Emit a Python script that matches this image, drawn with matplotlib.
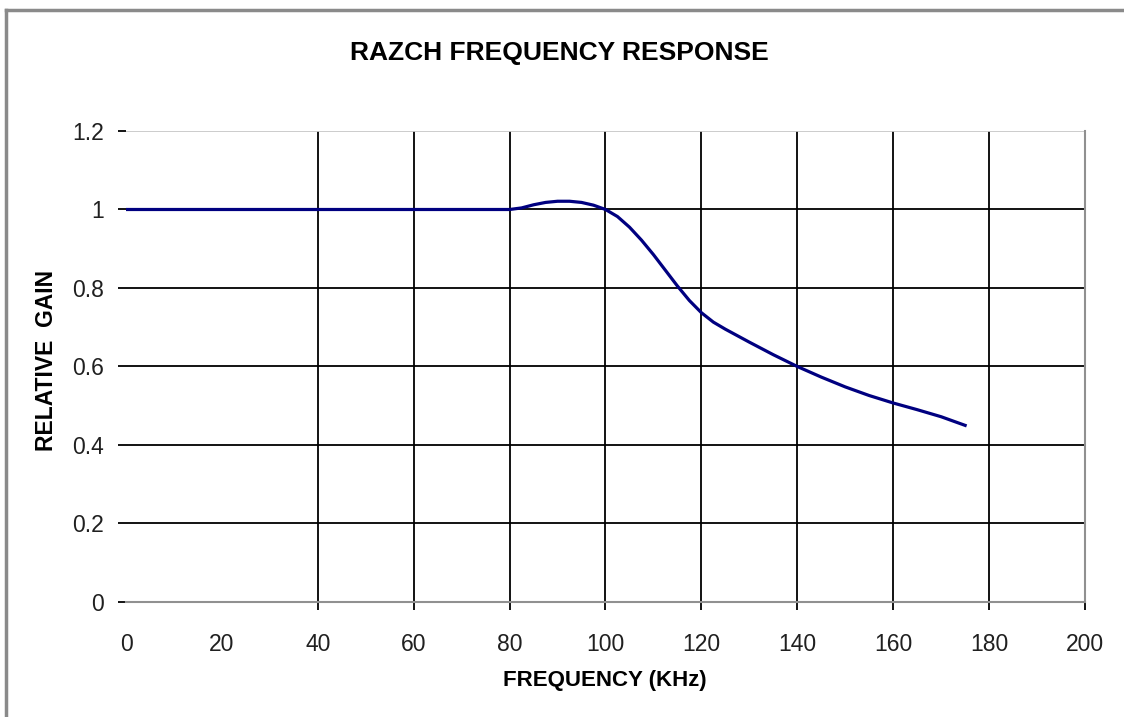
import matplotlib
matplotlib.use("Agg")
import matplotlib.pyplot as plt
from matplotlib import font_manager
from matplotlib.lines import Line2D

# frequency response
freq_khz = [0, 10, 20, 30, 40, 50, 60, 70, 80, 82.5, 85, 87.5, 90, 92.5, 95, 97.5,
            100, 102.5, 105, 107.5, 110, 112.5, 115, 117.5, 120, 122.5, 125, 130,
            135, 140, 145, 150, 155, 160, 165, 170, 175]
rel_gain = [1.0, 1.0, 1.0, 1.0, 1.0, 1.0, 1.0, 1.0, 1.0, 1.004, 1.012, 1.018, 1.021,
            1.021, 1.018, 1.011, 1.0, 0.982, 0.955, 0.922, 0.885, 0.845, 0.805,
            0.768, 0.737, 0.713, 0.695, 0.662, 0.63, 0.60, 0.573, 0.548, 0.526,
            0.507, 0.49, 0.472, 0.45]

x_ticks = [0, 20, 40, 60, 80, 100, 120, 140, 160, 180, 200]
y_ticks = [0, 0.2, 0.4, 0.6, 0.8, 1.0, 1.2]
y_labels = ["0", "0.2", "0.4", "0.6", "0.8", "1", "1.2"]

names = {f.name for f in font_manager.fontManager.ttflist}
narrow = "Liberation Sans Narrow" if "Liberation Sans Narrow" in names else "Liberation Sans"
tick_size = 19 if narrow == "Liberation Sans Narrow" else 16.5

fig = plt.figure(figsize=(11.24, 7.17), dpi=100)
ax = fig.add_axes([0.1121, 0.1604, 0.8532, 0.6569])

ax.plot(freq_khz, rel_gain, color="#000080", lw=2.3, solid_joinstyle="round")

ax.set_xlim(0, 200)
ax.set_ylim(0, 1.2)
ax.set_xticks(x_ticks)
ax.set_yticks(y_ticks)
ax.set_yticklabels(y_labels)

ax.grid(True, color="black", lw=1.3)
ax.set_axisbelow(True)
# the picture drops the gridline at 20 and shows the top one light grey
for t, gl in zip(x_ticks, ax.get_xgridlines()):
    if t in (0, 20, 200):
        gl.set_visible(False)
for t, gl in zip(y_ticks, ax.get_ygridlines()):
    if t == 1.2:
        gl.set_color("#c8c8c8")
    elif t == 0:
        gl.set_visible(False)

ax.spines["left"].set_visible(False)
ax.spines["top"].set_visible(False)
ax.spines["bottom"].set_color("#909090")
ax.spines["bottom"].set_linewidth(1.5)
ax.spines["right"].set_color("#909090")
ax.spines["right"].set_linewidth(1.5)

ax.tick_params(axis="y", length=6, width=1.3, color="black", pad=10)
ax.tick_params(axis="x", length=6, width=1.3, color="black", pad=16)
for t, tk in zip(x_ticks, ax.xaxis.get_major_ticks()):
    if t in (0, 20):
        tk.tick1line.set_visible(False)
    elif t == 200:
        tk.tick1line.set_color("#909090")
for t, tk in zip(y_ticks, ax.yaxis.get_major_ticks()):
    if t == 1.2:
        tk.tick1line.set_color("#909090")

for lab in ax.get_xticklabels() + ax.get_yticklabels():
    lab.set_fontfamily(narrow)
    lab.set_fontsize(tick_size)
    lab.set_color("#202020")

fig.text(0.498, 0.926, "RAZCH FREQUENCY RESPONSE", ha="center", va="center",
         fontfamily="Liberation Sans", fontweight="bold", fontsize=19)
fig.text(0.538, 0.051, "FREQUENCY (KHz)", ha="center", va="center",
         fontfamily="Liberation Sans", fontweight="bold", fontsize=16)
fig.text(0.041, 0.497, "RELATIVE  GAIN", ha="center", va="center", rotation=90,
         fontfamily="Liberation Sans", fontweight="bold", fontsize=16.5)

# outer chart frame (top and left edges visible in the picture)
fig.add_artist(Line2D([0.0053, 1.0], [0.986, 0.986], transform=fig.transFigure,
                      color="#8a8a8a", lw=2.5))
fig.add_artist(Line2D([0.0053, 0.0053], [0.0, 0.986], transform=fig.transFigure,
                      color="#8a8a8a", lw=2.5))

fig.savefig("out.png", dpi=100)
